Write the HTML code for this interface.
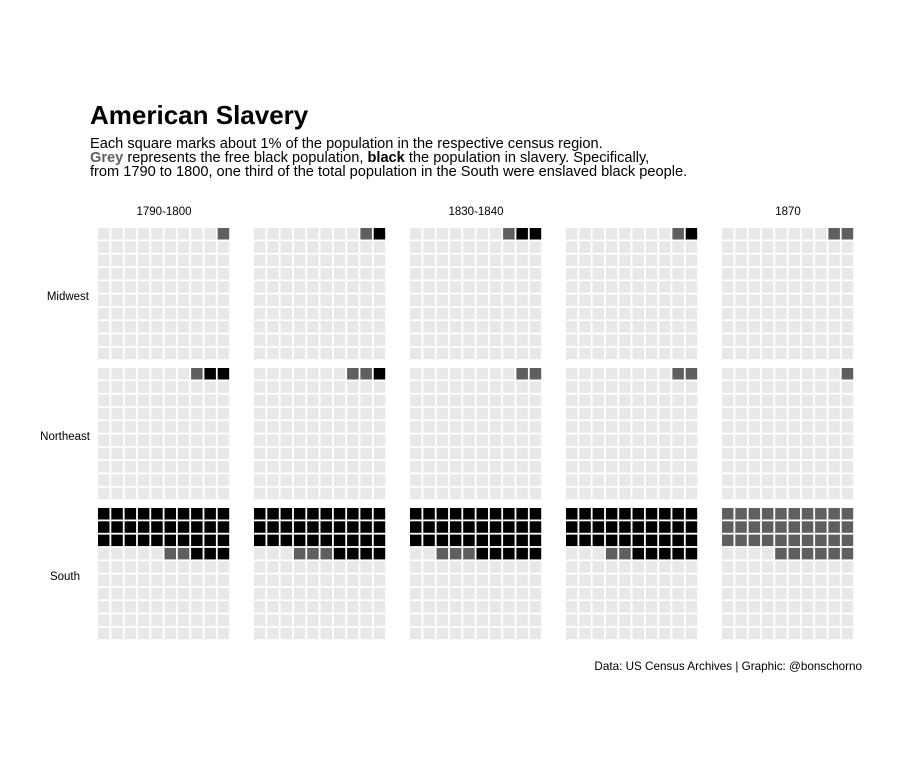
<!DOCTYPE html>
<html><head><meta charset="utf-8"><style>
body{margin:0;background:#fff;font-family:"Liberation Sans",Arial,sans-serif;}
svg text{font-family:"Liberation Sans",Arial,sans-serif;}
</style></head><body>
<svg id="c" width="900" height="769" xmlns="http://www.w3.org/2000/svg">
<text x="90" y="124" font-size="26" font-weight="bold" fill="#000">American Slavery</text>
<text x="90" y="148" font-size="14.6" fill="#000">Each square marks about 1% of the population in the respective census region.</text>
<text x="90" y="162" font-size="14.6" fill="#000"><tspan font-weight="bold" fill="#606060">Grey</tspan> represents the free black population, <tspan font-weight="bold">black</tspan> the population in slavery. Specifically,</text>
<text x="90" y="176" font-size="14.6" fill="#000">from 1790 to 1800, one third of the total population in the South were enslaved black people.</text>
<text x="862" y="670" font-size="11.7" text-anchor="end" fill="#000">Data: US Census Archives | Graphic: @bonschorno</text>
<g id="g"></g>
</svg>
<script>
const periods = ["1790-1800","","1830-1840","","1870"];
const regions = ["Midwest","Northeast","South"];
// enslaved (black) and free (grey) percentages, [region][period]
const enslaved = [[0,1,2,1,0],[2,1,0,0,0],[33,34,35,35,0]];
const free = [[1,1,1,1,2],[1,2,2,2,1],[2,3,3,2,36]];

const g = document.getElementById('g');
const NS = "http://www.w3.org/2000/svg";
const colX = i => 98 + i*156;
const rowY = j => 228 + j*140;
const pitch = 13.3, sz = 11.5;

periods.forEach((p,i)=>{
  if(!p) return;
  const t = document.createElementNS(NS,'text');
  t.setAttribute('x', colX(i)+66); t.setAttribute('y', 215);
  t.setAttribute('font-size','11.5'); t.setAttribute('text-anchor','middle');
  t.textContent = p;
  
  
  g.appendChild(t);
});
regions.forEach((r,j)=>{
  const t = document.createElementNS(NS,'text');
  t.setAttribute('x', 89); t.setAttribute('y', rowY(j)+72);
  t.setAttribute('font-size','11.5'); t.setAttribute('text-anchor','end');
  if(r==="South") t.setAttribute('x', 80);
  if(r==="Northeast") t.setAttribute('x', 90);
  t.textContent = r;
  
  
  g.appendChild(t);
});
regions.forEach((r,j)=>{
  periods.forEach((p,i)=>{
    const b = enslaved[j][i], f = free[j][i];
    for(let k=0;k<100;k++){
      const row = Math.floor(k/10), col = 9-(k%10);
      let fill = "#e8e8e8";
      if(k<b) fill="#000"; else if(k<b+f) fill="#5f5f5f";
      const s = document.createElementNS(NS,'rect');
      s.setAttribute('x', colX(i)+col*pitch);
      s.setAttribute('y', rowY(j)+row*pitch);
      s.setAttribute('width', sz); s.setAttribute('height', sz);
      s.setAttribute('fill', fill);
      
      
      g.appendChild(s);
    }
  });
});
</script>
</body></html>
